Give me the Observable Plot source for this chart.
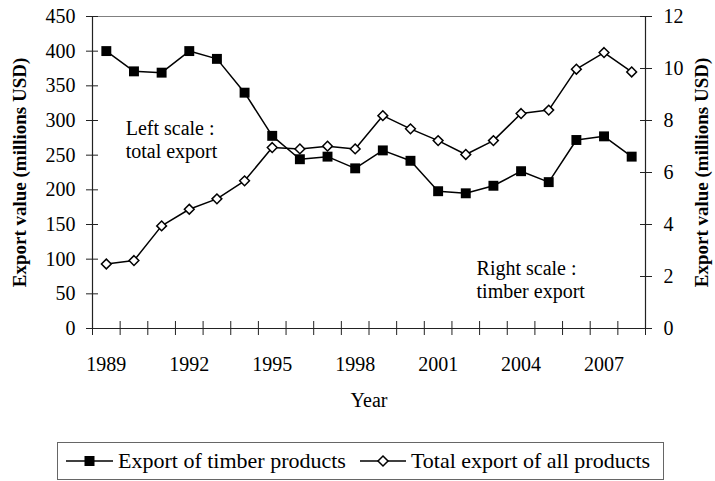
<!DOCTYPE html>
<html><head><meta charset="utf-8">
<script src="https://cdn.jsdelivr.net/npm/d3@7"></script>
<script src="https://cdn.jsdelivr.net/npm/@observablehq/plot@0.6"></script>
<style>
body{margin:0;background:#fff;font-family:"Liberation Serif",Tinos,"Times New Roman",Times,"DejaVu Serif","Noto Serif",serif;}
#wrap{position:relative;width:715px;height:481px;overflow:hidden;}
#chart svg, #chart svg text{font-family:"Liberation Serif",Tinos,"Times New Roman",Times,"DejaVu Serif","Noto Serif",serif !important;}
#legend{position:absolute;left:57px;top:442px;width:605px;height:36px;border:1px solid #666;display:flex;align-items:center;font-size:22px;color:#000;white-space:nowrap;box-sizing:content-box;}
#legend .item{display:flex;align-items:center;}
#legend svg{display:block;}
</style></head><body>
<div id="wrap"><div id="chart"></div><div id="legend"></div></div>
<script>
const years = [1989,1990,1991,1992,1993,1994,1995,1996,1997,1998,1999,2000,2001,2002,2003,2004,2005,2006,2007,2008];
// Export of timber products (right scale, millions USD)
const timber = [10.67,9.89,9.84,10.67,10.37,9.07,7.41,6.51,6.61,6.16,6.85,6.45,5.28,5.20,5.49,6.05,5.63,7.25,7.39,6.61];
// Total export of all products (left scale, millions USD)
const total = [93,98,148,172,187,213,261,259,263,259,307,288,271,251,271,310,315,374,398,370];
const leftTicks = [0,50,100,150,200,250,300,350,400,450];
const rightTicks = [0,2,4,6,8,10,12];
const yearLabels = [1989,1992,1995,1998,2001,2004,2007];
const seriesNames = ["Export of timber products","Total export of all products"];
const notes = [
  {year: 1989.7, value: 303, text: "Left scale :\ntotal export"},
  {year: 2002.39, value: 101, text: "Right scale :\ntimber export"}
];
const yTitle = "Export value (millions USD)";
const xTitle = "Year";

const leftMax = 450, rightMax = 12, ratio = leftMax / rightMax;
const x0 = years[0] - 0.5, x1 = years[years.length-1] + 0.5;
const bounds = d3.range(x0, x1 + 0.01, 1);

const timberRows = years.map((y,i)=>({year:y, value:timber[i]}));
const totalRows = years.map((y,i)=>({year:y, value:total[i]}));

const chart = Plot.plot({
  width: 715, height: 420,
  marginLeft: 92, marginRight: 70, marginTop: 16, marginBottom: 92,
  style: {fontSize: "20px", background: "white", color: "black"},
  x: {domain: [x0, x1]},
  y: {domain: [0, leftMax]},
  marks: [
    Plot.ruleY([leftMax], {stroke: "#808080", strokeWidth: 1}),
    Plot.axisX({ticks: bounds, tickSize: 14, dy: -7, tickFormat: () => "", stroke: "#222", label: null}),
    Plot.axisX({ticks: yearLabels, tickSize: 0, tickPadding: 28, tickFormat: d => String(d), label: xTitle, labelAnchor: "center", labelOffset: 78, labelArrow: false}),
    Plot.axisY({ticks: leftTicks, tickSize: 12, dx: 6, tickFormat: () => "", stroke: "#222", label: null}),
    Plot.axisY({ticks: leftTicks, tickSize: 0, tickPadding: 17, label: null}),
    Plot.axisY({ticks: [], label: yTitle, labelAnchor: "center", labelOffset: 80, labelArrow: false, fontWeight: "bold", fontSize: 19}),
    Plot.axisY({anchor: "right", ticks: rightTicks.map(v=>v*ratio), tickSize: 12, dx: -6, tickFormat: () => "", stroke: "#222", label: null}),
    Plot.axisY({anchor: "right", ticks: rightTicks.map(v=>v*ratio), tickSize: 0, tickPadding: 18, tickFormat: d => String(Math.round(d/ratio)), label: null}),
    Plot.axisY({anchor: "right", ticks: [], label: yTitle, labelAnchor: "center", labelOffset: 62, labelArrow: false, fontWeight: "bold", fontSize: 19}),
    Plot.ruleX([x0, x1], {stroke: "#222", strokeWidth: 1.2}),
    Plot.ruleY([0], {stroke: "#222", strokeWidth: 1.2}),
    Plot.line(totalRows, {x: "year", y: "value", stroke: "black", strokeWidth: 1.5}),
    Plot.line(timberRows, {x: "year", y: d => d.value * ratio, stroke: "black", strokeWidth: 1.5}),
    Plot.dot(timberRows, {x: "year", y: d => d.value * ratio, symbol: "square", r: 5.6, fill: "black", stroke: "none"}),
    Plot.dot(totalRows, {x: "year", y: "value", symbol: "diamond2", r: 4.4, fill: "white", stroke: "black", strokeWidth: 1.5}),
    Plot.text(notes, {x: "year", y: "value", text: "text", textAnchor: "start", lineAnchor: "top", fontSize: 20, lineHeight: 1.15})
  ]
});
document.getElementById("chart").appendChild(chart);

const legend = d3.select("#legend");
const items = [
  {name: seriesNames[0], kind: "square", w: 47, pad: 8, gap: 5},
  {name: seriesNames[1], kind: "diamond", w: 46, pad: 14, gap: 5}
];
items.forEach(it => {
  const d = legend.append("div").attr("class","item").style("margin-left", it.pad + "px");
  const s = d.append("svg").attr("width", it.w).attr("height", 14);
  s.append("line").attr("x1",0).attr("x2",it.w).attr("y1",7).attr("y2",7).attr("stroke","black").attr("stroke-width",1.5);
  if (it.kind === "square") {
    s.append("rect").attr("x", it.w/2-5).attr("y",2).attr("width",10).attr("height",10).attr("fill","black");
  } else {
    s.append("path").attr("d", `M${it.w/2},2L${it.w/2+5},7L${it.w/2},12L${it.w/2-5},7Z`).attr("fill","white").attr("stroke","black").attr("stroke-width",1.5);
  }
  d.append("span").style("margin-left", it.gap + "px").text(it.name);
});
</script>
</body></html>
